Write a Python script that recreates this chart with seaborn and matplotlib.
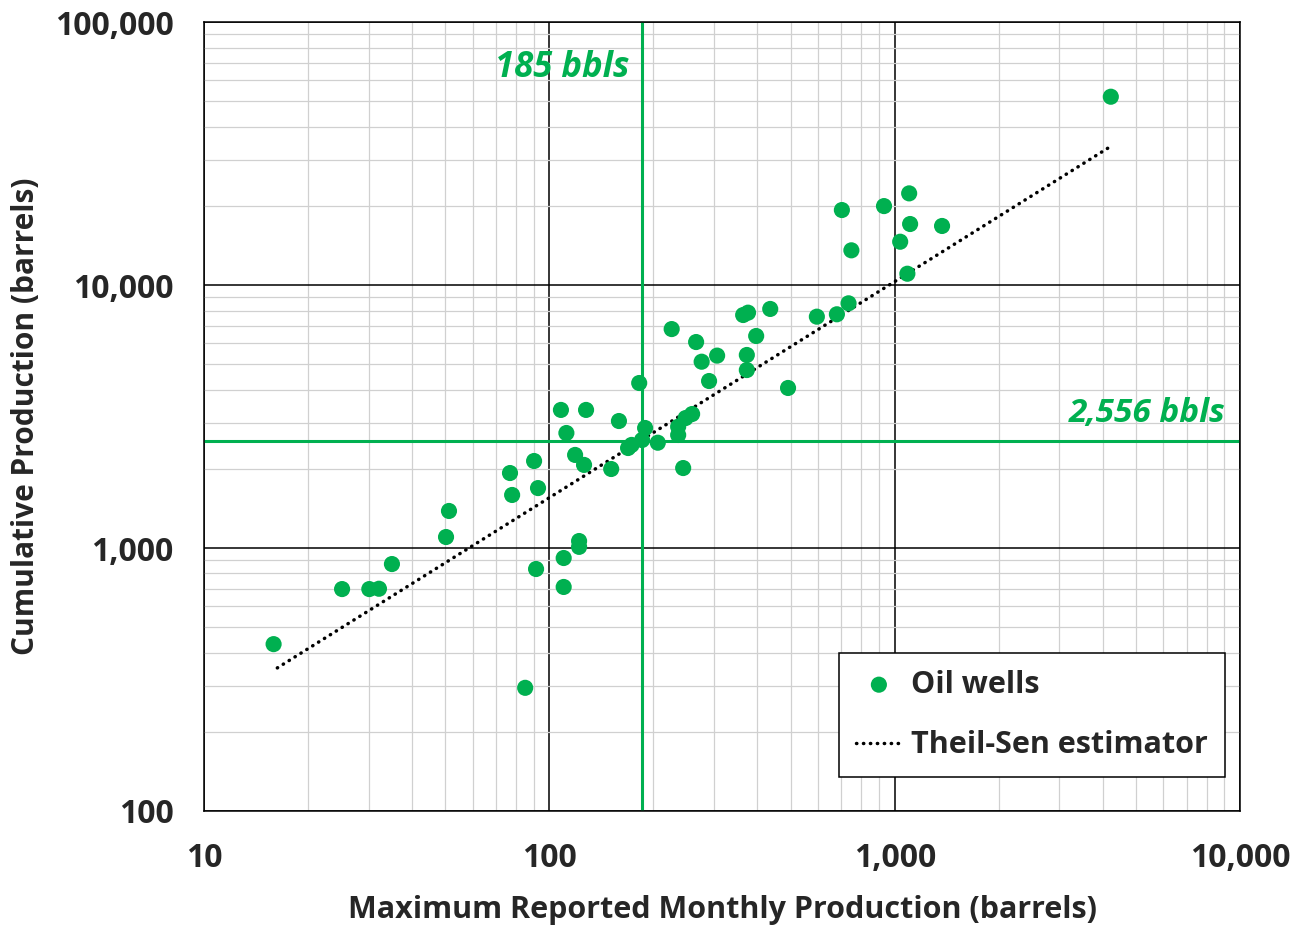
import matplotlib
matplotlib.use("Agg")
import matplotlib.pyplot as plt
import matplotlib.ticker as mticker
import seaborn as sns
import pandas as pd

# Data
max_monthly = [15.9, 25.1, 30.1, 32.1, 35.0, 50.2, 51.2, 76.9, 78.0, 90.3,
               92.7, 91.5, 85.1, 108, 112, 110, 110, 118.7, 121.9, 121.9,
               126, 127.7, 151, 159, 169, 173, 185.5, 182, 189.3, 206,
               226, 266, 276, 306, 290, 236, 236, 248, 259, 244,
               364, 376, 436, 397, 373, 373, 491, 595, 680, 735,
               749, 703, 931, 1101, 1108, 1371, 1037, 1088, 4224]
cumulative = [431, 698, 698, 700, 869, 1101, 1383, 1928, 1591, 2142,
              1690, 832, 294, 3350, 2737, 916, 711, 2259, 1063, 1010,
              2070, 3350, 1997, 3040, 2400, 2466, 2574, 4240, 2860, 2514,
              6800, 6070, 5110, 5390, 4315, 2892, 2690, 3120, 3232, 2014,
              7690, 7850, 8110, 6400, 5420, 4750, 4060, 7580, 7740, 8520,
              13550, 19280, 19960, 22310, 17060, 16770, 14610, 11040, 52000]
trend_x = [16.3, 4150]
trend_y = [350, 33200]
median_x = 185
median_y = 2556
x_ticks = [10, 100, 1000, 10000]
y_ticks = [100, 1000, 10000, 100000]

GREEN = "#00B050"

sns.set_style("white")
plt.rcParams["font.family"] = ["Open Sans", "DejaVu Sans"]

fig = plt.figure(figsize=(13.03, 9.26), dpi=100)
ax = fig.add_axes([0.1566, 0.1242, 0.7951, 0.852])

df = pd.DataFrame({"x": max_monthly, "y": cumulative})
tdf = pd.DataFrame({"x": trend_x, "y": trend_y})

ax.set_xscale("log")
ax.set_yscale("log")
ax.set_xlim(10, 10000)
ax.set_ylim(100, 100000)

# grid
ax.xaxis.set_minor_locator(mticker.LogLocator(base=10, subs=range(2, 10)))
ax.yaxis.set_minor_locator(mticker.LogLocator(base=10, subs=range(2, 10)))
ax.grid(True, which="minor", color="#D0D0D0", lw=0.9, zorder=0)
ax.grid(True, which="major", color="black", lw=1.1, zorder=0.5)
ax.set_axisbelow(True)

ax.axvline(median_x, color=GREEN, lw=2.2, zorder=1)
ax.axhline(median_y, color=GREEN, lw=2.2, zorder=1)

sns.lineplot(data=tdf, x="x", y="y", ax=ax, color="black", lw=2.5,
             linestyle=(0, (0.1, 1.9)), dash_capstyle="round",
             label="Theil-Sen estimator", zorder=3)
sns.scatterplot(data=df, x="x", y="y", ax=ax, color=GREEN, s=135,
                edgecolor="none", label="Oil wells", zorder=4)

for sp in ax.spines.values():
    sp.set_color("black")
    sp.set_linewidth(1.1)

ax.set_xticks(x_ticks)
ax.set_yticks(y_ticks)
ax.xaxis.set_major_formatter(mticker.FuncFormatter(lambda v, p: f"{int(round(v)):,}"))
ax.yaxis.set_major_formatter(mticker.FuncFormatter(lambda v, p: f"{int(round(v)):,}"))
ax.tick_params(axis="both", which="major", length=8, width=1.1, color="black",
               labelsize=23, pad=14, direction="out")
ax.tick_params(axis="both", which="minor", length=0)
for lab in ax.get_xticklabels() + ax.get_yticklabels():
    lab.set_fontweight("bold")

ax.set_xlabel("Maximum Reported Monthly Production (barrels)", fontsize=22,
              fontweight="bold", labelpad=15)
ax.set_ylabel("Cumulative Production (barrels)", fontsize=21.5,
              fontweight="bold", labelpad=10)

ax.text(171, 66800, "185 bbls", color=GREEN, fontsize=25, fontweight="bold",
        fontstyle="italic", ha="right", va="center")
ax.text(9060, 3250, "2,556 bbls", color=GREEN, fontsize=24, fontweight="bold",
        fontstyle="italic", ha="right", va="center")

handles, labels = ax.get_legend_handles_labels()
order = [labels.index("Oil wells"), labels.index("Theil-Sen estimator")]
leg = ax.legend([handles[i] for i in order], [labels[i] for i in order],
                loc="lower right", bbox_to_anchor=(0.985, 0.043), borderaxespad=0,
                fontsize=22, frameon=True, fancybox=False, edgecolor="black",
                framealpha=1, borderpad=0.55, labelspacing=1.0, handlelength=1.5,
                handletextpad=0.3)
leg.get_frame().set_linewidth(1.1)
for t in leg.get_texts():
    t.set_fontweight("bold")

fig.savefig("out.png", dpi=100)
